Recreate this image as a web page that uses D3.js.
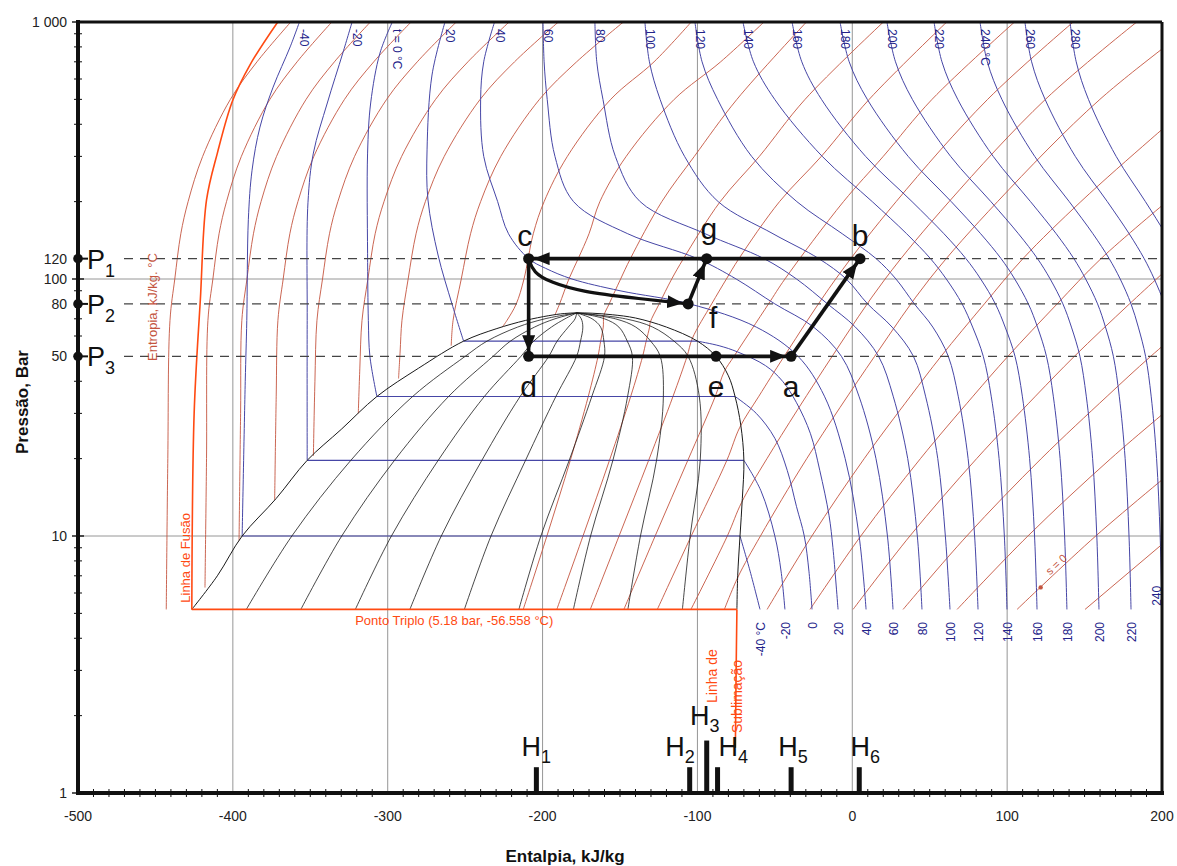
<!DOCTYPE html>
<html>
<head>
<meta charset="utf-8">
<script src="https://cdn.jsdelivr.net/npm/d3@7"></script>
<style>
  body { margin: 0; background: #fff; }
  svg { display: block; }
  text { font-family: "Liberation Sans Narrow", "Liberation Sans", Arial, sans-serif; }
  .bold { font-family: "Liberation Sans", Arial, sans-serif; font-weight: bold; }
  .big { font-family: "Liberation Sans", Arial, sans-serif; }
</style>
</head>
<body>
<svg id="chart" width="1177" height="866"></svg>
<script>
// ---- axes ----
const xTicks = [-500, -400, -300, -200, -100, 0, 100, 200]
const yTicks = [1, 10, 100, 1000]
const yTickText = ['1', '10', '100', '1 000']
const levelP = [120, 80, 50]          // P1, P2, P3
const levelName = ['1', '2', '3']

// ---- saturation dome (h kJ/kg, p bar) ----
const domeLiquid = [[-426.5, 5.18], [-410, 7], [-394, 10], [-372, 14], [-352, 19.7], [-330, 26], [-307, 34.9],
  [-280, 45], [-251, 57.3], [-230, 64], [-211, 69], [-196, 72], [-186, 73.4], [-178, 73.8]]
const domeVapour = [[-178, 73.8], [-168, 73.6], [-155, 72.6], [-140, 70.5], [-120, 65], [-100, 57.3], [-88, 50], [-80, 42],
  [-75.7, 34.9], [-72, 27], [-70, 19.7], [-71, 14], [-72.5, 10], [-74, 7], [-74.5, 5.18]]

// quality lines x = 0.1 ... 0.9
const qualityP = [5.18, 10, 19.7, 34.9, 50, 57.3, 65, 70, 73.8]
const qualityH = [
  [-391.3, -361.9, -323.8, -283.9, -250, -235.9, -216.1, -198.5, -178],
  [-356.1, -329.7, -295.6, -260.7, -232, -220.8, -205.2, -192, -178],
  [-320.9, -297.6, -267.4, -237.6, -214, -205.7, -194.3, -185.5, -178],
  [-285.7, -265.4, -239.2, -214.5, -196, -190.6, -183.4, -179, -178],
  [-250.5, -233.3, -211, -191.4, -178, -175.5, -174, -175, -178],
  [-215.3, -201.1, -182.8, -168.2, -160, -160.4, -162.5, -168, -178],
  [-180.1, -169, -154.6, -145.1, -142, -145.3, -150.7, -160, -178],
  [-144.9, -136.8, -126.4, -122, -124, -130.2, -139.8, -153, -178],
  [-109.7, -104.7, -98.2, -98.8, -106, -115.1, -128.9, -146.5, -178]
]

// ---- isotherms crossing the dome ----
const satTemps = [-40, -20, 0, 20]
const liquidIso = [
  [[-357, 1000], [-363, 800], [-374, 558], [-382.5, 390], [-387.6, 265], [-390, 170], [-391, 69], [-392, 40], [-394, 10]],
  [[-323, 1000], [-329, 757], [-339, 484], [-348, 309], [-351.5, 198], [-352, 69], [-352, 19.7]],
  [[-297, 1000], [-305, 757], [-311, 484], [-313, 309], [-313, 126], [-312.5, 69], [-311.5, 50], [-307, 34.9]],
  [[-263, 1000], [-271.4, 622], [-274.6, 318], [-274, 203], [-267.5, 124], [-258.5, 80], [-251, 57.3]]
]
const vapourIso = [
  [[-72.5, 10], [-66, 7.3], [-59.6, 5.18]],
  [[-70, 19.7], [-59, 15], [-50, 10], [-46, 7.3], [-43.5, 5.18]],
  [[-75.7, 34.9], [-62, 30], [-50, 24], [-42, 18], [-36, 13], [-31, 10], [-28, 7.3], [-26, 5.18]],
  [[-100, 57.3], [-86, 55], [-74, 52], [-56, 46], [-45, 40], [-36, 33], [-27, 25], [-21, 18], [-15, 12], [-12.5, 9], [-9.2, 5.18]]
]

// ---- supercritical / superheated isotherms ----
const superTemps = [40, 60, 80, 100, 120, 140, 160, 180, 200, 220, 240, 260, 280]
const superIso = [
  [[8.9, 5.18], [4.4, 10], [-4.6, 20], [-18, 35], [-35, 50], [-62, 65], [-105, 80], [-150, 90], [-181, 100], [-198, 110], [-209, 120], [-222, 150], [-229, 200], [-238, 300], [-240, 500], [-238, 700], [-231, 1000]],
  [[26.3, 5.18], [22.7, 10], [15.3, 20], [4.3, 35], [-7, 50], [-25, 65], [-50, 80], [-75, 100], [-100, 120], [-145, 150], [-180, 200], [-192, 300], [-197, 500], [-199, 700], [-199.7, 1000]],
  [[45, 5.18], [42, 10], [35.8, 20], [26.4, 35], [17, 50], [2, 65], [-16, 80], [-36, 100], [-57, 120], [-95, 150], [-137, 200], [-153, 300], [-161, 500], [-165, 700], [-166.2, 1000]],
  [[63.1, 5.18], [60.1, 10], [55.2, 20], [47.3, 35], [39.5, 50], [25.7, 65], [9.9, 80], [-3.9, 100], [-21.6, 120], [-51.2, 150], [-86.6, 200], [-108.3, 300], [-124.1, 500], [-131, 700], [-133.9, 1000]],
  [[81.2, 5.18], [79, 10], [74.8, 20], [68.4, 35], [62, 50], [52, 65], [40.1, 80], [28.2, 100], [15.4, 120], [-6.5, 150], [-35.8, 200], [-65, 300], [-87, 500], [-97, 700], [-101.6, 1000]],
  [[99.9, 5.18], [98.2, 10], [94.8, 20], [89.7, 35], [84.6, 50], [77.7, 65], [70.9, 80], [60.7, 100], [50.5, 120], [35.1, 150], [12.9, 200], [-19.4, 300], [-50.1, 500], [-63.8, 700], [-70.6, 1000]],
  [[119.3, 5.18], [117.7, 10], [114.5, 20], [109.8, 35], [105.1, 50], [98.7, 65], [92.4, 80], [82.9, 100], [73.4, 120], [59.2, 150], [38.6, 200], [8.6, 300], [-19.9, 500], [-32.6, 700], [-38.9, 1000]],
  [[138.6, 5.18], [137.1, 10], [134.2, 20], [129.8, 35], [125.4, 50], [119.6, 65], [113.7, 80], [104.9, 100], [96.1, 120], [82.9, 150], [63.9, 200], [36.1, 300], [9.7, 500], [-2, 700], [-7.9, 1000]],
  [[159.3, 5.18], [157.9, 10], [155.2, 20], [151.1, 35], [147, 50], [141.5, 65], [136, 80], [127.8, 100], [119.6, 120], [107.3, 150], [89.5, 200], [63.5, 300], [38.8, 500], [27.9, 700], [22.4, 1000]],
  [[180, 5.18], [178.7, 10], [176.2, 20], [172.4, 35], [168.6, 50], [163.5, 65], [158.4, 80], [150.7, 100], [143.1, 120], [131.7, 150], [115.1, 200], [91, 300], [68.1, 500], [57.9, 700], [52.8, 1000]],
  [[200, 5.18], [198.8, 10], [196.5, 20], [193, 35], [189.4, 50], [184.7, 65], [180, 80], [173, 100], [165.9, 120], [155.4, 150], [140.1, 200], [117.8, 300], [96.6, 500], [87.2, 700], [82.5, 1000]],
  [[219, 10], [214, 35], [210.2, 50], [205.9, 65], [201.6, 80], [195, 100], [188.5, 120], [178.8, 150], [164.7, 200], [144, 300], [124.5, 500], [115.8, 700], [111.5, 1000]],
  [[224, 80], [217.1, 100], [211.2, 120], [202.2, 150], [189.3, 200], [170.4, 300], [152.5, 500], [144.6, 700], [140.6, 1000]]
]

// ---- isentropes ----
const liquidIsen = [
  [[-443, 5.18], [-442, 20], [-440.6, 69], [-437.5, 100], [-433.6, 150], [-428.9, 200], [-419.5, 300], [-401.6, 500], [-384.4, 700], [-362.6, 1000]],
  [[-418, 6.3], [-417, 20], [-416.1, 69], [-412.9, 100], [-408.9, 150], [-404.1, 200], [-394.5, 300], [-376.1, 500], [-358.5, 700], [-336.1, 1000]],
  [[-396, 9.6], [-395, 30], [-394.2, 69], [-390.9, 100], [-386.7, 150], [-381.8, 200], [-371.8, 300], [-352.7, 500], [-334.4, 700], [-311.2, 1000]],
  [[-373, 13.8], [-372, 35], [-370.9, 69], [-367.5, 100], [-363.2, 150], [-358, 200], [-347.7, 300], [-327.9, 500], [-309, 700], [-284.9, 1000]],
  [[-348, 20.5], [-347, 40], [-345.7, 69], [-342.1, 100], [-337.6, 150], [-332.2, 200], [-321.4, 300], [-300.7, 500], [-280.9, 700], [-255.7, 1000]],
  [[-319, 30], [-318, 45], [-316.6, 69], [-312.8, 100], [-308.1, 150], [-302.4, 200], [-291, 300], [-269.1, 500], [-248.2, 700], [-221.6, 1000]],
  [[-293, 41], [-292, 52], [-290.8, 69], [-286.8, 100], [-281.7, 150], [-275.7, 200], [-263.5, 300], [-240.3, 500], [-218.1, 700], [-189.8, 1000]],
  [[-259, 55], [-257.8, 69], [-252.5, 100], [-246.5, 150], [-240, 200], [-227, 300], [-202, 500], [-178, 700], [-147.8, 1000]],
  [[-226, 65], [-223, 69], [-217, 80], [-212, 100], [-206, 150], [-199, 200], [-184, 300], [-156, 500], [-128, 700], [-104, 1000]],
  [[-192, 72.5], [-189, 80], [-183, 100], [-177, 120], [-170, 150], [-163, 200], [-146, 300], [-115, 500], [-85, 700], [-57, 1000]]
]
const vapourIsen = [
  [[-212.5, 5.18], [-197.2, 10], [-182.1, 19.7], [-170.5, 34.9], [-164.2, 50], [-162.5, 57.3], [-160.8, 65], [-160.4, 72], [-157, 80], [-149.6, 100], [-143.3, 120], [-123, 200], [-102, 300], [-74.5, 500], [-29.6, 1000]],
  [[-190.8, 5.18], [-173.9, 10], [-156.8, 19.7], [-143.1, 34.9], [-135.4, 50], [-133.1, 57.3], [-130.9, 65], [-130.5, 67.8], [-124.7, 80], [-116.6, 100], [-109, 120], [-85.3, 200], [-60, 300], [-30.5, 500], [20.1, 1000]],
  [[-169.2, 5.18], [-150.6, 10], [-131.5, 19.7], [-115.8, 34.9], [-106.7, 50], [-103.3, 58.7], [-90.8, 80], [-81.3, 100], [-73.2, 120], [-47, 200], [-20, 300], [10.9, 500], [61, 1000]],
  [[-147.5, 5.18], [-127.3, 10], [-106.2, 19.7], [-88.5, 34.9], [-82.7, 43.6], [-76.4, 50], [-54.1, 80], [-43.5, 100], [-5.7, 200], [20, 300], [51.5, 500], [104.8, 1000]],
  [[-125.9, 5.18], [-104, 10], [-81, 19.7], [-72.6, 26.5], [-60.3, 35], [-44, 50], [-10.7, 100], [28.3, 200], [87.4, 500], [142.7, 1000]],
  [[-104.2, 5.18], [-80.7, 10], [-71.5, 13.5], [-55.1, 20], [-13, 50], [21.2, 100], [62.5, 200], [124.7, 500], [183.7, 1000]],
  [[-82.6, 5.18], [-73.8, 6.93], [-59.3, 10], [-29.4, 20], [14.4, 50], [49.9, 100], [93.8, 200], [159.9, 500], [223, 1000]],
  [[-55, 5.18], [-26.1, 10], [7.7, 20], [37.6, 35], [57.3, 50], [85.3, 80], [110.2, 120], [147.6, 200], [192.8, 350], [222.8, 500]],
  [[-27.3, 5.18], [5.5, 10], [44, 20], [78, 35], [100.5, 50], [132.3, 80], [160.6, 120], [203.1, 200]],
  [[0.5, 5.18], [37.2, 10], [80.3, 20], [118.3, 35], [143.4, 50], [179, 80], [210.8, 120]],
  [[32.8, 5.18], [73.9, 10], [122, 20], [164.6, 35], [192.7, 50], [232.5, 80]],
  [[67.7, 5.18], [113.4, 10], [166.9, 20], [214.3, 35]],
  [[106.4, 5.18], [157.2, 10], [216.6, 20]],
  [[150.3, 5.18], [206.4, 10]]
]

// ---- phase boundaries ----
const fusionLine = [[-426.5, 5.18], [-425, 30], [-421, 83], [-417, 203], [-410, 309], [-400, 497], [-389, 680], [-371, 1000]]
const tripleLine = [[-426.5, 5.18], [-74.5, 5.18]]
const sublimationLine = [[-74.5, 5.18], [-75, 3], [-75.5, 1.5]]

// ---- cycle ----
const cyclePts = { a: [-39.5, 50], b: [5, 120], c: [-209, 120], d: [-209, 50], e: [-88, 50], f: [-106, 80], g: [-94, 120] }
const cycleArrows = [['b', 'c'], ['c', 'd'], ['d', 'a'], ['a', 'b'], ['f', 'g']]
const cfPath = [[-209, 120], [-206, 106], [-195, 97], [-174, 89], [-142, 84.4], [-106, 80]]

// ---- enthalpy markers ----
const hMarkH = [-204, -105, -94, -87, -39.5, 4.5]
const hMarkTop = [1.26, 1.26, 1.6, 1.26, 1.26, 1.26]

// ================= drawing =================
const x = d3.scaleLinear().domain([-500, 200]).range([78, 1162])
const y = d3.scaleLog().domain([1, 1000]).range([793, 22])

const svg = d3.select('#chart')
const defs = svg.append('defs')
defs.append('clipPath').attr('id', 'plot').append('rect')
  .attr('x', 78).attr('y', 22).attr('width', 1084).attr('height', 771)
defs.append('marker').attr('id', 'arr')
  .attr('markerUnits', 'userSpaceOnUse').attr('markerWidth', 24).attr('markerHeight', 14)
  .attr('refX', 21).attr('refY', 6.5).attr('orient', 'auto')
  .append('path').attr('d', 'M0,0 L16,6.5 L0,13 Z').attr('fill', '#111')

const smooth = d3.line().x(d => x(d[0])).y(d => y(d[1])).curve(d3.curveCatmullRom.alpha(0.5))
const straight = d3.line().x(d => x(d[0])).y(d => y(d[1]))

const plot = svg.append('g').attr('clip-path', 'url(#plot)')

// grid
plot.selectAll('.vg').data(xTicks.slice(1, -1)).enter().append('line')
  .attr('x1', d => x(d)).attr('x2', d => x(d)).attr('y1', 22).attr('y2', 793)
  .attr('stroke', '#8a8a8a').attr('stroke-width', 0.9)
plot.selectAll('.hg').data([10, 100]).enter().append('line')
  .attr('x1', 78).attr('x2', 1162).attr('y1', d => y(d)).attr('y2', d => y(d))
  .attr('stroke', '#8a8a8a').attr('stroke-width', 0.9)

// isentropes
const red = '#c4553f'
plot.selectAll('.li').data(liquidIsen).enter().append('path')
  .attr('d', smooth).attr('fill', 'none').attr('stroke', red).attr('stroke-width', 0.9)
plot.selectAll('.vi').data(vapourIsen).enter().append('path')
  .attr('d', smooth).attr('fill', 'none').attr('stroke', red).attr('stroke-width', 0.9)

// isotherms
const blue = '#4646a6'
satTemps.forEach((t, i) => {
  plot.append('path').attr('d', smooth(liquidIso[i])).attr('fill', 'none').attr('stroke', blue).attr('stroke-width', 1)
  plot.append('path').attr('d', straight([liquidIso[i][liquidIso[i].length - 1], vapourIso[i][0]]))
    .attr('fill', 'none').attr('stroke', blue).attr('stroke-width', 1.2)
  plot.append('path').attr('d', smooth(vapourIso[i])).attr('fill', 'none').attr('stroke', blue).attr('stroke-width', 1)
})
plot.selectAll('.si').data(superIso).enter().append('path')
  .attr('d', smooth).attr('fill', 'none').attr('stroke', blue).attr('stroke-width', 1)

// dome + quality lines
plot.append('path').attr('d', smooth(domeLiquid.concat(domeVapour.slice(1))))
  .attr('fill', 'none').attr('stroke', '#1a1a1a').attr('stroke-width', 1)
qualityH.forEach(row => {
  plot.append('path').attr('d', smooth(row.map((h, j) => [h, qualityP[j]])))
    .attr('fill', 'none').attr('stroke', '#1a1a1a').attr('stroke-width', 0.8)
})

// phase boundaries
const orange = '#ff4a12'
;[fusionLine, tripleLine, sublimationLine].forEach(l => {
  plot.append('path').attr('d', smooth(l)).attr('fill', 'none').attr('stroke', orange).attr('stroke-width', 1.6)
})

// dashed pressure levels
plot.selectAll('.dl').data(levelP).enter().append('line')
  .attr('x1', 124).attr('x2', 1162).attr('y1', d => y(d)).attr('y2', d => y(d))
  .attr('stroke', '#444').attr('stroke-width', 1.3).attr('stroke-dasharray', '9,7')

// isentrope label
const sLine = vapourIsen[12]
const sa = [x(sLine[0][0]), y(sLine[0][1])], sb = [x(sLine[1][0]), y(sLine[1][1])]
const sAng = Math.atan2(sb[1] - sa[1], sb[0] - sa[0]) * 180 / Math.PI
svg.append('circle').attr('cx', sa[0] + (sb[0] - sa[0]) * 0.3).attr('cy', sa[1] + (sb[1] - sa[1]) * 0.3)
  .attr('r', 2.2).attr('fill', red)
svg.append('text').attr('transform', `translate(${sa[0] + (sb[0] - sa[0]) * 0.42},${sa[1] + (sb[1] - sa[1]) * 0.42 - 3}) rotate(${sAng})`)
  .attr('font-size', 11).attr('fill', red).text('s = 0')

// isotherm labels (top)
const navy = '#23238a'
const topLab = satTemps.map((t, i) => [t, liquidIso[i][0]])
  .concat(superTemps.map((t, i) => [t, superIso[i][superIso[i].length - 1]]))
topLab.forEach(([t, pt]) => {
  const txt = t === 0 ? 't = 0 °C' : t === 240 ? '240 °C' : String(t)
  svg.append('text').attr('transform', `translate(${x(pt[0]) + 1},${29}) rotate(90)`)
    .attr('font-size', 12).attr('fill', navy).text(txt)
})
// isotherm labels (bottom)
const botLab = satTemps.map((t, i) => [t, vapourIso[i][vapourIso[i].length - 1]])
  .concat(superTemps.slice(0, 10).map((t, i) => [t, superIso[i][0]]))
botLab.forEach(([t, pt]) => {
  svg.append('text').attr('transform', `translate(${x(pt[0]) + 5},${622}) rotate(-90)`)
    .attr('text-anchor', 'end').attr('font-size', 12).attr('fill', navy).text(t === -40 ? '-40 °C' : String(t))
})
svg.append('text').attr('transform', `translate(${x(200) - 1},${y(6.4)}) rotate(-90)`)
  .attr('text-anchor', 'end').attr('font-size', 12).attr('fill', navy).text('240')

// region labels
svg.append('text').attr('transform', `translate(157,${y(48)}) rotate(-90)`)
  .attr('font-size', 13).attr('fill', red).text('Entropia, kJ/kg. °C')
svg.append('text').attr('transform', `translate(190,${y(5.5)}) rotate(-90)`)
  .attr('font-size', 13).attr('fill', orange).text('Linha de Fusão')
svg.append('text').attr('x', x(-321)).attr('y', y(5.18) + 16)
  .attr('font-size', 13).attr('fill', orange).text('Ponto Triplo (5.18 bar, -56.558 °C)')
svg.append('text').attr('transform', 'translate(717,703) rotate(-90)')
  .attr('font-size', 14).attr('fill', orange).text('Linha de')
svg.append('text').attr('transform', 'translate(742,733) rotate(-90)')
  .attr('font-size', 14).attr('fill', orange).text('Sublimação')

// enthalpy markers
hMarkH.forEach((h, i) => {
  svg.append('rect').attr('x', x(h) - 2.5).attr('width', 5)
    .attr('y', y(hMarkTop[i])).attr('height', y(1) - y(hMarkTop[i])).attr('fill', '#111')
})
const hLabAnchor = ['middle', 'end', 'middle', 'start', 'middle', 'middle']
const hLabDx = [0, 5, -2, 1, 2, 6]
const hLabDy = [-11, -11, -16, -11, -11, -11]
hMarkH.forEach((h, i) => {
  const t = svg.append('text').attr('class', 'big').attr('x', x(h) + hLabDx[i])
    .attr('y', y(hMarkTop[i]) + hLabDy[i]).attr('text-anchor', hLabAnchor[i])
    .attr('font-size', 27).attr('fill', '#111')
  t.append('tspan').text('H')
  t.append('tspan').attr('font-size', 18).attr('dy', 7).text(String(i + 1))
})

// cycle
const P = k => [x(cyclePts[k][0]), y(cyclePts[k][1])]
cycleArrows.forEach(([s, e]) => {
  svg.append('line').attr('x1', P(s)[0]).attr('y1', P(s)[1]).attr('x2', P(e)[0]).attr('y2', P(e)[1])
    .attr('stroke', '#111').attr('stroke-width', 3.6).attr('marker-end', 'url(#arr)')
})
svg.append('path').attr('d', d3.line().x(d => x(d[0])).y(d => y(d[1])).curve(d3.curveBasis)(cfPath))
  .attr('fill', 'none').attr('stroke', '#111').attr('stroke-width', 3.2).attr('marker-end', 'url(#arr)')
Object.keys(cyclePts).forEach(k => {
  svg.append('circle').attr('cx', P(k)[0]).attr('cy', P(k)[1]).attr('r', 5.5).attr('fill', '#111')
})
const letterOff = { a: [0, 41], b: [0, -13], c: [-4, -13], d: [0, 41], e: [0, 41], f: [25, 24], g: [2, -20] }
Object.keys(cyclePts).forEach(k => {
  svg.append('text').attr('class', 'big').attr('x', P(k)[0] + letterOff[k][0]).attr('y', P(k)[1] + letterOff[k][1])
    .attr('text-anchor', 'middle').attr('font-size', 30).attr('fill', '#111').text(k)
})

// level markers P1..P3
levelP.forEach((p, i) => {
  svg.append('circle').attr('cx', 78).attr('cy', y(p)).attr('r', 4.8).attr('fill', '#111')
  svg.append('line').attr('x1', 78).attr('x2', 88).attr('y1', y(p)).attr('y2', y(p)).attr('stroke', '#111').attr('stroke-width', 2)
  const t = svg.append('text').attr('class', 'big').attr('x', 87).attr('y', y(p) + 10)
    .attr('font-size', 27).attr('fill', '#111')
  t.append('tspan').text('P')
  t.append('tspan').attr('font-size', 18).attr('dy', 8).text(levelName[i])
})

// frame
svg.append('line').attr('x1', 78).attr('x2', 1162).attr('y1', 22).attr('y2', 22).attr('stroke', '#111').attr('stroke-width', 3)
svg.append('line').attr('x1', 1162).attr('x2', 1162).attr('y1', 22).attr('y2', 793).attr('stroke', '#111').attr('stroke-width', 3)
svg.append('line').attr('x1', 78).attr('x2', 78).attr('y1', 20).attr('y2', 795).attr('stroke', '#111').attr('stroke-width', 4)
svg.append('line').attr('x1', 76).attr('x2', 1164).attr('y1', 793).attr('y2', 793).attr('stroke', '#111').attr('stroke-width', 4)

// minor ticks
const xMinor = d3.range(-490, 200, 10).filter(v => v % 100 !== 0)
svg.selectAll('.xm').data(xMinor).enter().append('line')
  .attr('x1', d => x(d)).attr('x2', d => x(d)).attr('y1', 789).attr('y2', 797)
  .attr('stroke', '#111').attr('stroke-width', 1)
const yMinor = []
;[1, 10, 100].forEach(dec => d3.range(2, 10).forEach(m => yMinor.push(m * dec)))
svg.selectAll('.ym').data(yMinor).enter().append('line')
  .attr('x1', 74).attr('x2', 82).attr('y1', d => y(d)).attr('y2', d => y(d))
  .attr('stroke', '#111').attr('stroke-width', 1)
svg.selectAll('.yM').data(yTicks).enter().append('line')
  .attr('x1', 72).attr('x2', 84).attr('y1', d => y(d)).attr('y2', d => y(d))
  .attr('stroke', '#111').attr('stroke-width', 1.4)

// tick labels
svg.selectAll('.xl').data(xTicks).enter().append('text')
  .attr('x', d => x(d)).attr('y', 821).attr('text-anchor', 'middle')
  .attr('font-size', 14).attr('fill', '#222').text(d => d)
svg.selectAll('.yl').data(yTicks).enter().append('text')
  .attr('x', 67).attr('y', d => y(d) + 5).attr('text-anchor', 'end')
  .attr('font-size', 14).attr('fill', '#222').text((d, i) => yTickText[i])
svg.selectAll('.yl2').data(levelP).enter().append('text')
  .attr('x', 67).attr('y', d => y(d) + 5).attr('text-anchor', 'end')
  .attr('font-size', 14).attr('fill', '#222').text(d => d)

// axis titles
svg.append('text').attr('class', 'bold').attr('x', 565).attr('y', 862).attr('text-anchor', 'middle')
  .attr('font-size', 17).attr('fill', '#111').text('Entalpia, kJ/kg')
svg.append('text').attr('class', 'bold').attr('transform', 'translate(28,402) rotate(-90)').attr('text-anchor', 'middle')
  .attr('font-size', 17).attr('fill', '#111').text('Pressão, Bar')
</script>
</body>
</html>
